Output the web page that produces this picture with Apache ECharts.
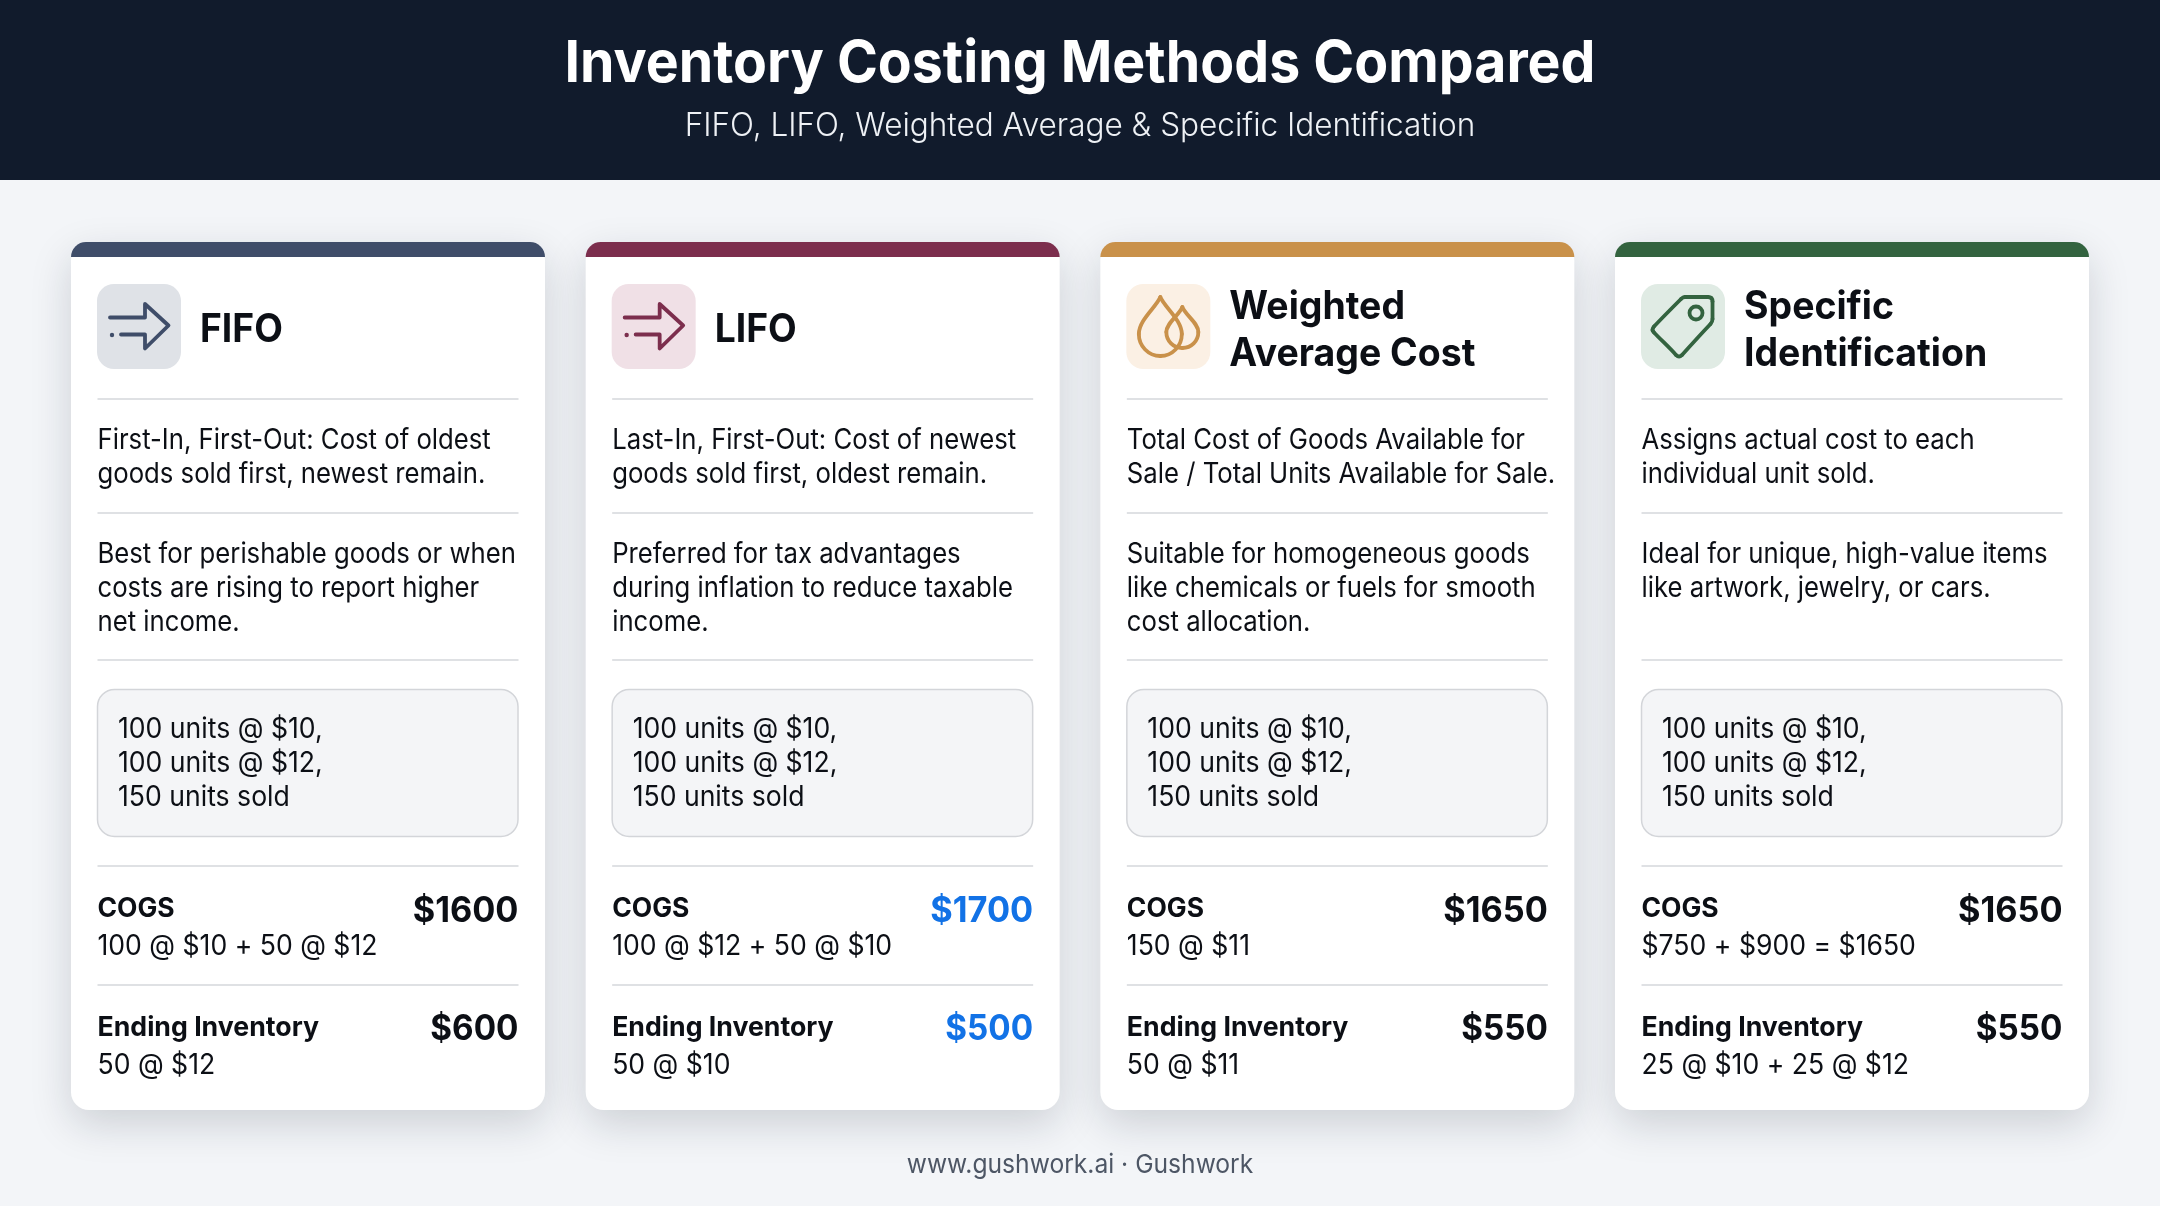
<!DOCTYPE html>
<html>
<head>
<meta charset="utf-8">
<title>Inventory Costing Methods Compared</title>
<style>
	html, body { margin: 0; padding: 0; background: #f3f5f8; }
	#main { width: 2160px; height: 1206px; }
</style>
<script src="https://cdn.jsdelivr.net/npm/echarts@6/dist/echarts.min.js"></script>
</head>
<body>
<div id="main"></div>
<script>
var titleText = 'Inventory Costing Methods Compared';
var subtitleText = 'FIFO, LIFO, Weighted Average & Specific Identification';
var footerText = 'www.gushwork.ai · Gushwork';

var methodNames = [['FIFO'], ['LIFO'], ['Weighted', 'Average Cost'], ['Specific', 'Identification']];
var definitions = [
	['First-In, First-Out: Cost of oldest', 'goods sold first, newest remain.'],
	['Last-In, First-Out: Cost of newest', 'goods sold first, oldest remain.'],
	['Total Cost of Goods Available for', 'Sale / Total Units Available for Sale.'],
	['Assigns actual cost to each', 'individual unit sold.']
];
var bestUses = [
	['Best for perishable goods or when', 'costs are rising to report higher', 'net income.'],
	['Preferred for tax advantages', 'during inflation to reduce taxable', 'income.'],
	['Suitable for homogeneous goods', 'like chemicals or fuels for smooth', 'cost allocation.'],
	['Ideal for unique, high-value items', 'like artwork, jewelry, or cars.']
];
var scenario = ['100 units @ $10,', '100 units @ $12,', '150 units sold'];
var cogsValues = ['$1600', '$1700', '$1650', '$1650'];
var cogsDetails = ['100 @ $10 + 50 @ $12', '100 @ $12 + 50 @ $10', '150 @ $11', '$750 + $900 = $1650'];
var endingValues = ['$600', '$500', '$550', '$550'];
var endingDetails = ['50 @ $12', '50 @ $10', '50 @ $11', '25 @ $10 + 25 @ $12'];

var accentColors = ['#3f4d69', '#7c2e4d', '#c9914a', '#33633f'];
var iconBackgrounds = ['#dfe2e7', '#f0e0e6', '#fbf0e4', '#e0ebe4'];
var FONT = 'Inter, sans-serif';
var INK = '#0c0f15';
var BLUE = '#1272e6';

// icon outlines, drawn on an 84x84 box
var arrowPoints = [[13, 33.5], [48, 33.5], [48, 20], [71.5, 41.5], [48, 64.5], [48, 50.5], [24, 50.5]];
var bigDrop = [
	[34, 13, 30, 23, 12.5, 36, 12.5, 50],
	[12.5, 50, 12.5, 62, 22, 72, 34, 72],
	[34, 72, 46, 72, 55.5, 62, 55.5, 50],
	[55.5, 50, 55.5, 36, 38, 23, 34, 13]
];
var smallDrop = [
	[56, 23, 53, 31, 40, 39, 40, 48],
	[40, 48, 40, 57, 47, 64, 56, 64],
	[56, 64, 65, 64, 72, 57, 72, 48],
	[72, 48, 72, 39, 59, 31, 56, 23]
];
var tagOutline = [
	[44, 13, 50, 13, 60, 13, 67, 13],
	[67, 13, 70, 13, 71.5, 14.5, 71.5, 17.5],
	[71.5, 17.5, 71.5, 23, 71.5, 29, 71.5, 35],
	[71.5, 35, 71.5, 37, 70.8, 38.6, 69.5, 40],
	[69.5, 40, 60, 50, 50, 61, 41, 71],
	[41, 71, 39, 73, 37, 73, 35, 71],
	[35, 71, 28, 63, 20, 56, 13, 48.5],
	[13, 48.5, 11, 46.5, 11, 44.5, 13, 42.5],
	[13, 42.5, 22, 33, 31, 24, 40, 15],
	[40, 15, 41.2, 13.7, 42.5, 13, 44, 13]
];

var elements = [];

// y is the text baseline, stretch squeezes the text sideways
function addText(x, y, str, size, weight, color, align, stretch) {
	elements.push({
		type: 'text',
		x: x,
		y: y - size * 0.31,
		scaleX: stretch || 1,
		silent: true,
		style: {
			text: str,
			fill: color,
			font: weight + ' ' + size + 'px ' + FONT,
			textAlign: align || 'left',
			textVerticalAlign: 'middle',
			verticalAlign: 'middle'
		}
	});
}

function addLine(x1, x2, y) {
	elements.push({
		type: 'rect',
		silent: true,
		shape: { x: x1, y: y - 0.75, width: x2 - x1, height: 1.5 },
		style: { fill: '#d5d7db' }
	});
}

function iconStroke(color) {
	return { fill: null, stroke: color, lineWidth: 3.8, lineCap: 'round', lineJoin: 'round' };
}

function addCurves(x, y, curves, color) {
	for (var n = 0; n < curves.length; n++) {
		var s = curves[n];
		elements.push({
			type: 'bezierCurve',
			silent: true,
			shape: {
				x1: x + s[0], y1: y + s[1],
				cpx1: x + s[2], cpy1: y + s[3],
				cpx2: x + s[4], cpy2: y + s[5],
				x2: x + s[6], y2: y + s[7]
			},
			style: iconStroke(color)
		});
	}
}

function addCircle(cx, cy, r, fill, stroke) {
	elements.push({
		type: 'circle',
		silent: true,
		shape: { cx: cx, cy: cy, r: r },
		style: { fill: fill, stroke: stroke, lineWidth: stroke ? 3.8 : 0 }
	});
}

function drawIcon(i, x, y) {
	var color = accentColors[i];
	elements.push({
		type: 'rect',
		silent: true,
		shape: { x: x, y: y, width: 84, height: 85, r: 17 },
		style: { fill: iconBackgrounds[i] }
	});
	if (i < 2) {
		elements.push({
			type: 'polyline',
			silent: true,
			shape: { points: arrowPoints.map(function(p) { return [x + p[0], y + p[1]]; }) },
			style: iconStroke(color)
		});
		addCircle(x + 15, y + 51, 2.2, color, null);
	} else if (i === 2) {
		addCurves(x, y, bigDrop, color);
		addCurves(x, y, smallDrop, color);
	} else {
		addCurves(x, y, tagOutline, color);
		addCircle(x + 55, y + 29, 6.5, null, color);
	}
}

function drawCard(i) {
	var left = 71 + i * 514.67;
	var width = 474;
	var inL = left + 26.5;
	var inR = left + width - 26.5;
	var k;

	elements.push({
		type: 'rect',
		silent: true,
		shape: { x: left, y: 242, width: width, height: 868, r: 18 },
		style: { fill: '#ffffff', shadowBlur: 40, shadowOffsetY: 14, shadowColor: 'rgba(20,30,50,0.17)' }
	});
	elements.push({
		type: 'rect',
		silent: true,
		shape: { x: left, y: 242, width: width, height: 15, r: [18, 18, 0, 0] },
		style: { fill: accentColors[i] }
	});

	drawIcon(i, inL - 0.5, 284);

	var name = methodNames[i];
	if (name.length === 1) {
		addText(left + 129, 342.5, name[0], 39, 700, INK, 'left', 0.955);
	} else {
		addText(left + 129, 319, name[0], 39, 700, INK, 'left', 0.96);
		addText(left + 129, 366, name[1], 39, 700, INK, 'left', 0.96);
	}
	addLine(inL, inR, 399);

	for (k = 0; k < definitions[i].length; k++) {
		addText(inL, 449 + k * 34, definitions[i][k], 28, 400, INK, 'left', 0.918);
	}
	addLine(inL, inR, 513);

	for (k = 0; k < bestUses[i].length; k++) {
		addText(inL, 563 + k * 34, bestUses[i][k], 28, 400, INK, 'left', 0.918);
	}
	addLine(inL, inR, 660);

	elements.push({
		type: 'rect',
		silent: true,
		shape: { x: inL, y: 689.5, width: inR - inL - 0.5, height: 147, r: 17 },
		style: { fill: '#f4f5f7', stroke: '#d3d5d9', lineWidth: 1.5 }
	});
	for (k = 0; k < scenario.length; k++) {
		addText(inL + 20.5, 738 + k * 34, scenario[k], 28, 400, INK, 'left', 0.95);
	}
	addLine(inL, inR, 866);

	var valueColor = i === 1 ? BLUE : INK;
	addText(inL, 917, 'COGS', 27, 700, INK, 'left', 0.98);
	addText(inL, 955, cogsDetails[i], 28, 400, INK, 'left', 0.95);
	addText(inR, 922, cogsValues[i], 35, 700, valueColor, 'right', 0.98);
	addLine(inL, inR, 985);

	addText(inL, 1036, 'Ending Inventory', 27, 700, INK, 'left', 0.988);
	addText(inL, 1074, endingDetails[i], 28, 400, INK, 'left', 0.95);
	addText(inR, 1040.5, endingValues[i], 35, 700, valueColor, 'right', 0.95);
}

elements.push({
	type: 'rect',
	silent: true,
	shape: { x: 0, y: 0, width: 2160, height: 1206 },
	style: { fill: '#f3f5f8' }
});
elements.push({
	type: 'rect',
	silent: true,
	shape: { x: 0, y: 0, width: 2160, height: 180 },
	style: { fill: '#111b2c' }
});
addText(1080, 83, titleText, 58, 700, '#ffffff', 'center', 0.955);
addText(1080, 136, subtitleText, 32, 300, '#eef1f5', 'center', 0.985);

for (var c = 0; c < methodNames.length; c++) {
	drawCard(c);
}

addText(1080, 1173, footerText, 26, 400, '#4d5665', 'center', 0.947);

var myChart = echarts.init(document.getElementById('main'));
myChart.setOption({
	animation: false,
	graphic: { elements: elements }
});
</script>
</body>
</html>
